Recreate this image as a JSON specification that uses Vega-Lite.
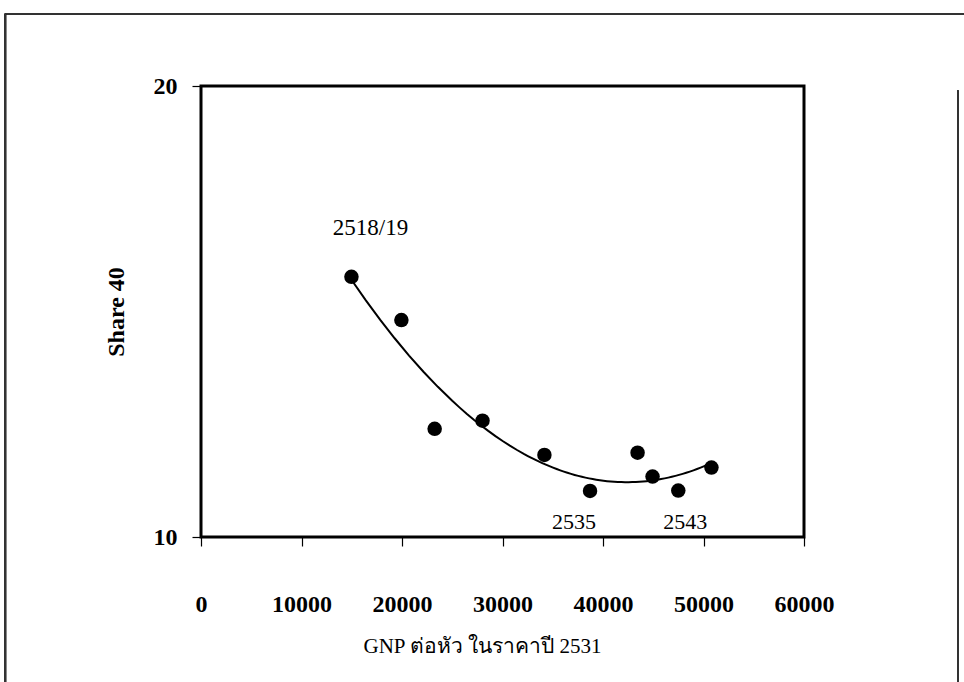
{
  "$schema": "https://vega.github.io/schema/vega-lite/v6.json",
  "width": 603,
  "height": 451,
  "autosize": "none",
  "padding": {"left": 201, "top": 86, "right": 160, "bottom": 145},
  "background": "white",
  "config": {
    "font": "Liberation Serif",
    "view": {"stroke": "black", "strokeWidth": 3},
    "axis": {"grid": false, "domain": false, "tickColor": "black", "tickWidth": 1.2, "tickSize": 9, "labelColor": "black", "titleColor": "black", "labelFont": "Liberation Serif", "titleFont": "Liberation Serif", "labelFlush": false, "labelOverlap": false}
  },
  "data": {
    "values": [
      {"gnp": 14970, "share": 15.77, "label": "2518/19"},
      {"gnp": 19940, "share": 14.81, "label": ""},
      {"gnp": 23250, "share": 12.40, "label": ""},
      {"gnp": 28010, "share": 12.58, "label": ""},
      {"gnp": 34170, "share": 11.82, "label": ""},
      {"gnp": 38710, "share": 11.02, "label": "2535"},
      {"gnp": 43440, "share": 11.87, "label": ""},
      {"gnp": 44930, "share": 11.34, "label": ""},
      {"gnp": 47490, "share": 11.03, "label": "2543"},
      {"gnp": 50790, "share": 11.54, "label": ""}
    ]
  },
  "encoding": {
    "x": {
      "field": "gnp", "type": "quantitative",
      "scale": {"domain": [0, 60000], "nice": false, "zero": false},
      "axis": {
        "title": "GNP ต่อหัว ในราคาปี 2531",
        "values": [0, 10000, 20000, 30000, 40000, 50000, 60000],
        "format": "d",
        "labelFontSize": 24, "labelFontWeight": "bold", "labelPadding": 46,
        "titleFontSize": 21, "titleFontWeight": "normal", "titlePadding": 19,
        "titleX": 281
      }
    },
    "y": {
      "field": "share", "type": "quantitative",
      "scale": {"domain": [10, 20], "nice": false, "zero": false},
      "axis": {
        "title": "Share 40",
        "values": [10, 20],
        "labelFontSize": 24, "labelFontWeight": "bold", "labelPadding": 15,
        "titleFontSize": 24, "titleFontWeight": "bold", "titlePadding": 25
      }
    }
  },
  "layer": [
    {
      "mark": {"type": "rule", "clip": false, "color": "#333", "strokeWidth": 1.5},
      "encoding": {
        "x": {"datum": -19470},
        "x2": {"datum": 76400},
        "y": {"datum": 21.6},
        "y2": {"datum": 21.6}
      }
    },
    {
      "mark": {"type": "rule", "clip": false, "color": "#333", "strokeWidth": 1.5},
      "encoding": {
        "x": {"datum": -19470},
        "y": {"datum": 21.6},
        "y2": {"datum": 6.7}
      }
    },
    {
      "mark": {"type": "rule", "clip": false, "color": "#333", "strokeWidth": 1.5},
      "encoding": {
        "x": {"datum": 75300},
        "y": {"datum": 19.9},
        "y2": {"datum": 6.7}
      }
    },
    {
      "mark": {"type": "circle", "size": 210, "color": "black", "opacity": 1}
    },
    {
      "transform": [{"regression": "share", "on": "gnp", "method": "poly", "order": 2}],
      "mark": {"type": "line", "color": "black", "strokeWidth": 2}
    },
    {
      "transform": [{"filter": "datum.label == '2518/19'"}],
      "mark": {"type": "text", "fontSize": 23, "dx": 19, "dy": -49, "color": "black"},
      "encoding": {"text": {"field": "label"}}
    },
    {
      "transform": [{"filter": "datum.label == '2535'"}],
      "mark": {"type": "text", "fontSize": 22, "dx": -16, "dy": 31, "color": "black"},
      "encoding": {"text": {"field": "label"}}
    },
    {
      "transform": [{"filter": "datum.label == '2543'"}],
      "mark": {"type": "text", "fontSize": 22, "dx": 7, "dy": 31, "color": "black"},
      "encoding": {"text": {"field": "label"}}
    }
  ]
}
